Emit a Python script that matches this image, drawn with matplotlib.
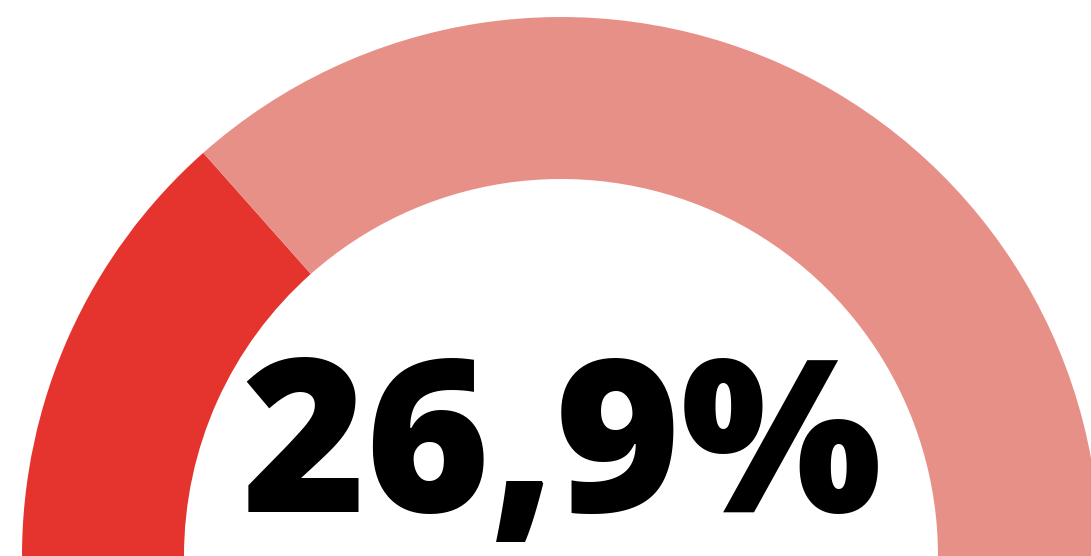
import matplotlib
matplotlib.use("Agg")
import matplotlib.pyplot as plt
from matplotlib.patches import Wedge

# Data
share = 26.9
label = "26,9%"
colors = ["#E5332E", "#E79088"]

W, H = 1091, 556
fig = plt.figure(figsize=(W / 100, H / 100), dpi=100)
ax = fig.add_axes([0, 0, 1, 1])
ax.set_xlim(0, W)
ax.set_ylim(0, H)
ax.set_aspect("equal")
ax.axis("off")

cx, cy = 561, 0
r_out, r_in = 539, 377
split = 180 - share / 100 * 180

# red part from the left, light part for the remainder
ax.add_patch(Wedge((cx, cy), r_out, split, 180, width=r_out - r_in, color=colors[0], lw=0))
ax.add_patch(Wedge((cx, cy), r_out, 0, split, width=r_out - r_in, color=colors[1], lw=0))

ax.text(cx + 1, 44, label, ha="center", va="baseline", fontsize=153,
        fontweight=800, family="Open Sans", color="black")

fig.savefig("out.png", dpi=100)
